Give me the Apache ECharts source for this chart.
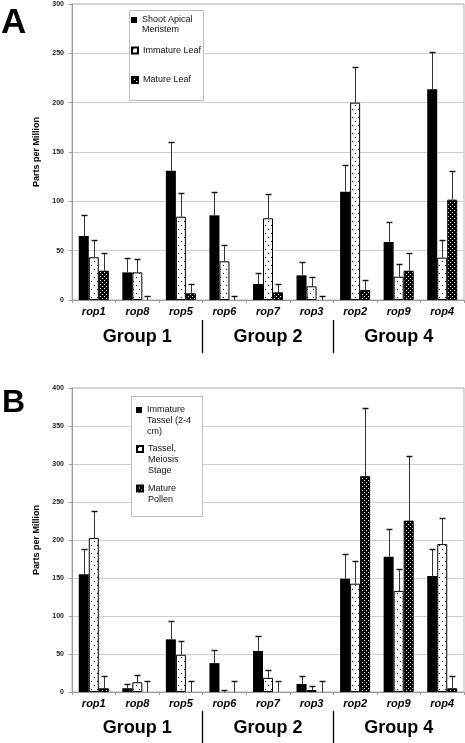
<!DOCTYPE html>
<html><head><meta charset="utf-8">
<script src="https://cdn.jsdelivr.net/npm/echarts@6/dist/echarts.min.js"></script>
<style>html,body{margin:0;padding:0;background:#fff}#c{width:465px;height:743px}</style>
</head><body><div id="c"></div>
<script>
// ---------- data ----------
var categories = ['rop1','rop8','rop5','rop6','rop7','rop3','rop2','rop9','rop4'];
var groups = ['Group 1','Group 2','Group 4'];

// Panel A
var seriesNamesA = ['Shoot Apical Meristem','Immature Leaf','Mature Leaf'];
var legendLabelsA = ['Shoot Apical\nMeristem','Immature Leaf','Mature Leaf'];
var samA      = [64.9, 28.0, 131.0, 85.8, 16.2, 25.0, 109.8, 58.8, 213.5];
var samUpperA = [85.8, 42.3, 160.4, 109.8, 27.0, 38.2, 136.5, 79.0, 251.6];
var immA      = [43.3, 28.0, 84.4, 39.2, 82.8, 13.9, 200.0, 23.6, 42.9];
var immUpperA = [60.5, 41.2, 108.7, 56.0, 107.7, 23.6, 236.5, 36.8, 60.8];
var matA      = [29.7, 0, 6.8, 0, 7.8, 0, 10.1, 29.7, 101.7];
var matUpperA = [47.3, 4.4, 16.5, 4.4, 16.5, 4.4, 20.6, 47.3, 131.0];
var yTicksA = {min: 0, max: 300, interval: 50};

// Panel B
var seriesNamesB = ['Immature Tassel (2-4 cm)','Tassel, Meiosis Stage','Mature Pollen'];
var legendLabelsB = ['Immature\nTassel (2-4\ncm)','Tassel,\nMeiosis\nStage','Mature\nPollen'];
var tasB      = [155.0, 5.0, 69.3, 38.0, 54.0, 10.6, 149.0, 178.0, 152.7];
var tasUpperB = [188.6, 10.0, 94.0, 55.0, 74.0, 20.7, 182.0, 214.5, 187.6];
var meiB      = [202.7, 12.8, 49.0, 0, 18.6, 2.6, 142.5, 133.0, 194.6];
var meiUpperB = [238.0, 22.0, 66.7, 3.0, 29.2, 7.5, 172.5, 161.5, 229.5];
var polB      = [4.9, 0, 0, 0, 0, 0, 284.0, 225.5, 4.9];
var polUpperB = [21.6, 14.0, 14.0, 14.0, 14.6, 14.0, 374.0, 311.0, 21.6];
var yTicksB = {min: 0, max: 400, interval: 50};

// ---------- styles ----------
var FONT = 'Liberation Sans, Arial, sans-serif';
function makePattern(w, h, bg, fg, dots) {
  var c = document.createElement('canvas'); c.width = w; c.height = h;
  var ctx = c.getContext('2d');
  ctx.fillStyle = bg; ctx.fillRect(0, 0, w, h);
  ctx.fillStyle = fg;
  dots.forEach(function (d) { ctx.fillRect(d[0], d[1], 1, 1); });
  return {image: c, repeat: 'repeat'};
}
var solidStyle = {color: '#000', borderColor: '#000', borderWidth: 0};
var dotStyle = {color: makePattern(6, 8, '#fff', '#000', [[1,1],[4,5]]), borderColor: '#000', borderWidth: 1};
var denseStyle = {color: makePattern(4, 4, '#000', '#fff', [[0,0],[2,2]]), borderColor: '#000', borderWidth: 1};
var styles = [solidStyle, dotStyle, denseStyle];
var CAT_GAP = 0.31;

function errRender(pos) {
  return function (params, api) {
    var cat = api.value(0), hi = api.value(1), lo = api.value(2);
    var band = api.size([1, 0])[0];
    var bw = band * (1 - CAT_GAP) / 3;
    var b = api.coord([cat, lo]);
    var t = api.coord([cat, hi]);
    var x = Math.round(b[0] + (pos - 1) * bw) + 0.5;
    var yt = Math.round(t[1]) + 0.5;
    return {type: 'group', children: [
      {type: 'line', shape: {x1: x, y1: b[1], x2: x, y2: yt}, style: {stroke: '#333', lineWidth: 1}},
      {type: 'line', shape: {x1: x - 3, y1: yt, x2: x + 3, y2: yt}, style: {stroke: '#111', lineWidth: 1.4}}
    ]};
  };
}

var grids = [
  {left: 72, right: 1, top: 4, height: 296, show: true, borderColor: '#b5b5b5', borderWidth: 1},
  {left: 72, right: 1, top: 388, height: 304, show: true, borderColor: '#b5b5b5', borderWidth: 1}
];

function catAxis(gi) {
  return {type: 'category', gridIndex: gi, data: categories, position: 'bottom',
    axisLine: {lineStyle: {color: '#999'}},
    axisTick: {show: true, length: 3, lineStyle: {color: '#999'}},
    axisLabel: {color: '#000', fontFamily: FONT, fontSize: 11, fontWeight: 'bold', fontStyle: 'italic', margin: 6}
  };
}
function groupAxis(gi, offset, len) {
  return {type: 'value', gridIndex: gi, position: 'bottom', offset: offset, min: 0, max: 3,
    axisLine: {show: false}, splitLine: {show: false},
    axisTick: {show: true, length: len, customValues: [1, 2], lineStyle: {color: '#000', width: 1.3}},
    axisLabel: {customValues: [0.5, 1.5, 2.5], margin: 8, color: '#000', fontFamily: FONT, fontSize: 18, fontWeight: 'bold',
      formatter: function (v) { return groups[Math.floor(v)]; }}
  };
}
function valAxis(gi, t) {
  return {type: 'value', gridIndex: gi, min: t.min, max: t.max, interval: t.interval,
    name: 'Parts per Million', nameLocation: 'middle', nameGap: 30,
    nameTextStyle: {fontFamily: FONT, fontSize: 9, fontWeight: 'bold', color: '#000'},
    axisLine: {show: true, lineStyle: {color: '#999'}},
    axisTick: {show: true, length: 3, lineStyle: {color: '#999'}},
    axisLabel: {fontFamily: FONT, fontSize: 7, fontWeight: 'bold', color: '#222', margin: 8},
    splitLine: {lineStyle: {color: '#cfcfcf'}}
  };
}

var series = [];
function addPanel(gi, names, vals, uppers) {
  for (var k = 0; k < 3; k++) {
    series.push({type: 'bar', name: names[k], xAxisIndex: gi * 2, yAxisIndex: gi,
      data: vals[k].map(function (v) { return v === 0 ? {value: v, itemStyle: {borderWidth: 0, opacity: 0}} : v; }),
      barGap: '0%', barCategoryGap: (CAT_GAP * 100) + '%',
      itemStyle: styles[k], emphasis: {disabled: true}, animation: false});
  }
  for (var k2 = 0; k2 < 3; k2++) {
    series.push({type: 'custom', xAxisIndex: gi * 2, yAxisIndex: gi, z: 5, silent: true, animation: false,
      renderItem: errRender(k2),
      data: categories.map(function (c, i) { return [i, uppers[k2][i], vals[k2][i]]; })});
  }
}
addPanel(0, seriesNamesA, [samA, immA, matA], [samUpperA, immUpperA, matUpperA]);
addPanel(1, seriesNamesB, [tasB, meiB, polB], [tasUpperB, meiUpperB, polUpperB]);

// legend text is centred on its icon; blank lines above make the icon sit on the first line
function legendItem(name, label, left, iconCenter, lh) {
  var n = label.split('\n').length;
  var text = new Array(n).join(' \n') + label;
  return {show: true, data: [name], left: left, top: iconCenter - (2 * n - 1) * lh / 2,
    orient: 'vertical', padding: 0, z: 10,
    itemWidth: 6, itemHeight: 6, icon: 'rect', selectedMode: false,
    formatter: function () { return text; },
    textStyle: {fontFamily: FONT, fontSize: 9, color: '#111', lineHeight: lh}};
}
var LHA = 10, LHB = 10.8;
var iconCentersA = [20, 50.5, 80];
var iconCentersB = [410, 449, 488.5];
var legends = [];
for (var i = 0; i < 3; i++) legends.push(legendItem(seriesNamesA[i], legendLabelsA[i], 131, iconCentersA[i], LHA));
for (var j = 0; j < 3; j++) legends.push(legendItem(seriesNamesB[j], legendLabelsB[j], 136, iconCentersB[j], LHB));

var chart = echarts.init(document.getElementById('c'), null, {renderer: 'canvas'});
chart.setOption({
  animation: false,
  backgroundColor: '#fff',
  textStyle: {fontFamily: FONT},
  grid: grids,
  xAxis: [catAxis(0), groupAxis(0, 20, 33), catAxis(1), groupAxis(1, 19, 34)],
  yAxis: [valAxis(0, yTicksA), valAxis(1, yTicksB)],
  legend: legends,
  series: series,
  graphic: [
    {type: 'rect', z: 5, shape: {x: 129.5, y: 10.5, width: 74, height: 90}, style: {fill: '#fff', stroke: '#bdbdbd', lineWidth: 1}},
    {type: 'rect', z: 5, shape: {x: 131.5, y: 396.5, width: 71, height: 120}, style: {fill: '#fff', stroke: '#bdbdbd', lineWidth: 1}},
    {type: 'text', left: 1, top: 6, style: {text: 'A', fontFamily: FONT, fontSize: 35, fontWeight: 'bold', fill: '#000'}},
    {type: 'text', left: 2, top: 387, style: {text: 'B', fontFamily: FONT, fontSize: 32, fontWeight: 'bold', fill: '#000'}}
  ]
});
</script>
</body></html>
